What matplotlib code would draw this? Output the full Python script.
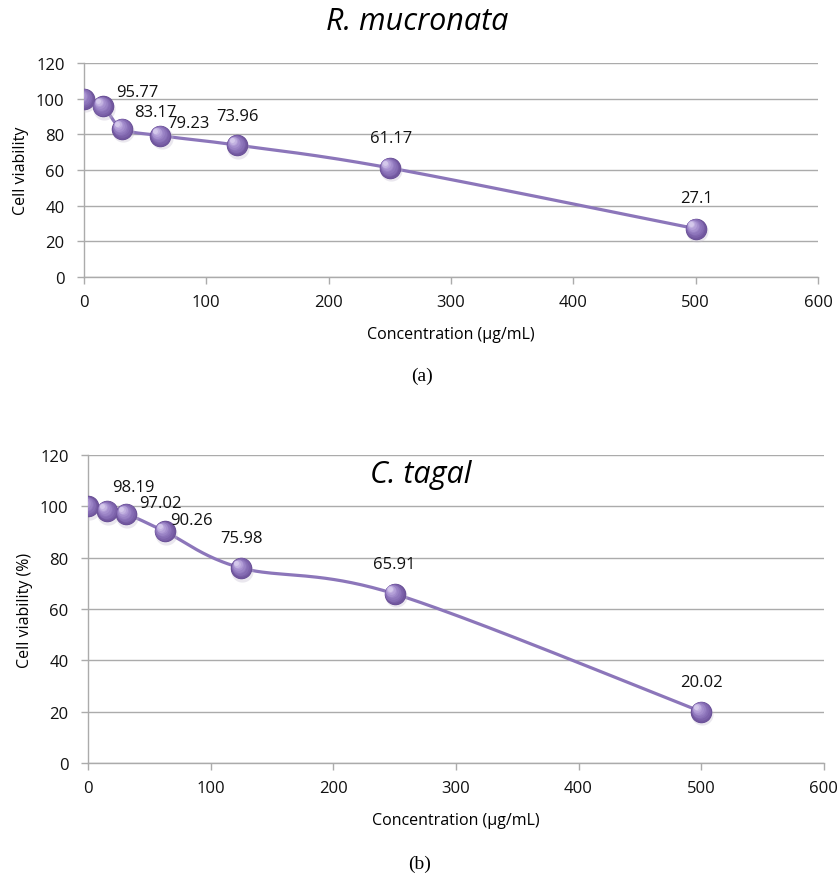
import numpy as np
import matplotlib
matplotlib.use('Agg')
import matplotlib.pyplot as plt
from matplotlib.transforms import ScaledTranslation

plt.rcParams['font.family'] = ['Open Sans', 'DejaVu Sans']

# Datos
conc = [0, 15.6, 31.25, 62.5, 125, 250, 500]
viab_rm = [100, 95.77, 83.17, 79.23, 73.96, 61.17, 27.1]
viab_ct = [100, 98.19, 97.02, 90.26, 75.98, 65.91, 20.02]
labels_rm = ['', '95.77', '83.17', '79.23', '73.96', '61.17', '27.1']
labels_ct = ['', '98.19', '97.02', '90.26', '75.98', '65.91', '20.02']
xticks = [0, 100, 200, 300, 400, 500, 600]
yticks = [0, 20, 40, 60, 80, 100, 120]

# desplazamiento de etiquetas (pixeles)
offs_rm = [(0, 0), (34, 14), (33, 17), (28, 13), (1, 29), (1, 30), (1, 31)]
offs_ct = [(0, 0), (26, 24), (34, 11), (27, 11), (0, 30), (0, 30), (0, 30)]

LINE_C = '#8c76ba'
GRID_C = '#ababab'


def smooth(xs, ys, sx, sy, n=40):
    # Curva tipo Catmull-Rom (suavizado de Excel)
    p = np.column_stack([np.array(xs) / sx, np.array(ys) / sy])
    out = []
    for i in range(len(p) - 1):
        p0 = p[i - 1] if i > 0 else p[i]
        p1 = p[i]
        p2 = p[i + 1]
        p3 = p[i + 2] if i + 2 < len(p) else p[i + 1]
        c1 = p1 + (p2 - p0) / 6
        c2 = p2 - (p3 - p1) / 6
        t = np.linspace(0, 1, n)[:, None]
        seg = ((1 - t) ** 3) * p1 + 3 * ((1 - t) ** 2) * t * c1 + 3 * (1 - t) * t ** 2 * c2 + t ** 3 * p2
        out.append(seg)
    out = np.vstack(out)
    return out[:, 0] * sx, out[:, 1] * sy


def spheres(ax, fig, xs, ys):
    # sombra suave
    ax.plot(xs, ys, 'o', ms=16, color='#c4bdd0', alpha=0.35, mec='none', zorder=4,
            transform=ax.transData + ScaledTranslation(0.8 / 72, -1.8 / 72, fig.dpi_scale_trans))
    ax.plot(xs, ys, 'o', ms=15.5, color='#654c92', mec='none', zorder=5)
    shades = ['#71579e', '#7c62aa', '#866db4', '#8f77bc', '#9a83c5', '#a690ce', '#b4a0d8', '#c3b3e1', '#d4c8eb']
    for k, c in enumerate(shades):
        ms = 14.8 - k * 1.4
        d = k * 0.45
        ax.plot(xs, ys, 'o', ms=ms, color=c, mec='none', zorder=6 + k,
                transform=ax.transData + ScaledTranslation(-d / 72, d / 72, fig.dpi_scale_trans))


def draw(ax, fig, ys, labels, offs, ylabel):
    ax.set_xlim(0, 600)
    ax.set_ylim(0, 120)
    ax.set_xticks(xticks)
    ax.set_yticks(yticks)
    ax.yaxis.grid(True, color=GRID_C, lw=1.0)
    ax.set_axisbelow(True)
    for s in ['top', 'right']:
        ax.spines[s].set_visible(False)
    for s in ['left', 'bottom']:
        ax.spines[s].set_color(GRID_C)
        ax.spines[s].set_linewidth(1.0)
    ax.tick_params(axis='both', colors=GRID_C, labelcolor='#111111', labelsize=12, length=5, width=1)
    ax.tick_params(axis='x', pad=7)
    ax.tick_params(axis='y', pad=9)
    ax.margins(0)
    sx, sy = smooth(conc, ys, 600, 120)
    ax.plot(sx, sy, color=LINE_C, lw=2.3, zorder=3, solid_capstyle='round')
    spheres(ax, fig, conc, ys)
    for x, y, t, (dx, dy) in zip(conc, ys, labels, offs):
        if t:
            ax.annotate(t, (x, y), xytext=(dx, dy), textcoords='offset pixels',
                        ha='center', va='center', fontsize=12, color='#111111', zorder=20)
    ax.set_xlabel('Concentration (µg/mL)', fontsize=11.5, labelpad=12)
    ax.set_ylabel(ylabel, fontsize=11.5, labelpad=5)


fig = plt.figure(figsize=(8.39, 8.79), dpi=100)
ax1 = fig.add_axes([0.1001, 0.6837, 0.875, 0.2435])
ax2 = fig.add_axes([0.1049, 0.1308, 0.877, 0.3504])
for ax in (ax1, ax2):
    ax.patch.set_alpha(0)

draw(ax1, fig, viab_rm, labels_rm, offs_rm, 'Cell viability')
draw(ax2, fig, viab_ct, labels_ct, offs_ct, 'Cell viability (%)')

fig.text(0.497, 0.966, 'R. mucronata', fontsize=22, style='italic', ha='center', va='baseline')
fig.text(0.502, 0.4505, 'C. tagal', fontsize=22, style='italic', ha='center', va='baseline')
fig.text(0.503, 0.572, '(a)', fontsize=14, family='Liberation Serif', ha='center', va='center')
fig.text(0.5, 0.017, '(b)', fontsize=14, family='Liberation Serif', ha='center', va='center')

fig.savefig('out.png', dpi=100)
